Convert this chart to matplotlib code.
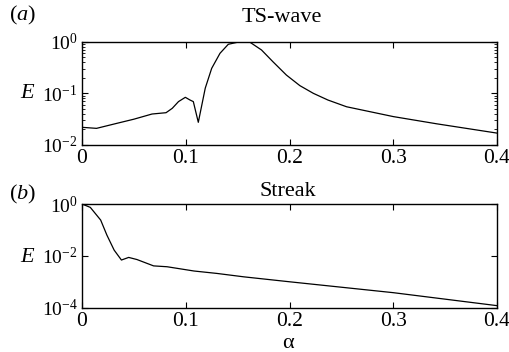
import matplotlib
matplotlib.use("Agg")
import matplotlib.pyplot as plt
from matplotlib.ticker import LogLocator, NullFormatter, FixedLocator

plt.rcParams['font.family'] = ['Liberation Serif', 'DejaVu Serif']
plt.rcParams['mathtext.fontset'] = 'custom'
plt.rcParams['mathtext.rm'] = 'Liberation Serif'
plt.rcParams['mathtext.it'] = 'Liberation Serif:italic'

# Panel (a): TS-wave
alpha_ts = [0.0, 0.014, 0.0337, 0.05, 0.0675, 0.081, 0.087, 0.093, 0.0996, 0.1041,
            0.1073, 0.1121, 0.1188, 0.125, 0.133, 0.141, 0.1523, 0.162, 0.173, 0.184,
            0.197, 0.210, 0.223, 0.237, 0.255, 0.30, 0.342, 0.4]
E_ts = [0.0220, 0.0210, 0.0263, 0.0316, 0.0398, 0.0422, 0.0513, 0.0692, 0.0838, 0.0743,
        0.0692, 0.0275, 0.126, 0.305, 0.596, 0.891, 1.0, 0.973, 0.692, 0.410,
        0.226, 0.141, 0.100, 0.0743, 0.055, 0.0355, 0.0257, 0.0170]

# Panel (b): Streak
alpha_st = [0.0, 0.008, 0.018, 0.024, 0.031, 0.038, 0.045, 0.053, 0.069, 0.082,
            0.108, 0.13, 0.156, 0.2, 0.3, 0.4]
E_st = [1.0, 0.741, 0.24, 0.063, 0.0166, 0.0069, 0.0087, 0.0072, 0.0041, 0.0038,
        0.0026, 0.0021, 0.00155, 0.0010, 0.00038, 0.00012]

xticks = [0, 0.1, 0.2, 0.3, 0.4]
xticklabels = ['0', '0.1', '0.2', '0.3', '0.4']

W, H = 509, 352
fig = plt.figure(figsize=(W / 100, H / 100), dpi=100)
FSX = 15.5
FSY = 14
FST = 16

def px_axes(x0, y0, x1, y1):
    return fig.add_axes([x0 / W, 1 - y1 / H, (x1 - x0) / W, (y1 - y0) / H])

axa = px_axes(82, 41.7, 497, 145)
axb = px_axes(82, 204, 497, 307.7)

axa.semilogy(alpha_ts, E_ts, color='black', lw=0.9)
axb.semilogy(alpha_st, E_st, color='black', lw=0.9)

for ax in (axa, axb):
    ax.set_xlim(0, 0.4)
    ax.set_xticks(xticks)
    ax.set_xticklabels(xticklabels, fontsize=FSX)
    ax.tick_params(which='major', direction='in', top=True, right=True, length=4,
                   width=0.8, pad=3)
    ax.tick_params(which='minor', direction='in', top=True, right=True, length=2,
                   width=0.6)
    for s in ax.spines.values():
        s.set_linewidth(1.0)

axa.set_ylim(1e-2, 1e0)
axa.yaxis.set_major_locator(FixedLocator([1e-2, 1e-1, 1e0]))
axa.set_yticklabels([r'$10^{-2}$', r'$10^{-1}$', r'$10^{0}$'], fontsize=FSY)
axa.yaxis.set_minor_locator(LogLocator(base=10, subs=range(2, 10), numticks=20))
axa.yaxis.set_minor_formatter(NullFormatter())

axb.set_ylim(1e-4, 1e0)
axb.yaxis.set_major_locator(FixedLocator([1e-4, 1e-2, 1e0]))
axb.set_yticklabels([r'$10^{-4}$', r'$10^{-2}$', r'$10^{0}$'], fontsize=FSY)
axb.yaxis.set_minor_locator(FixedLocator([]))

axa.xaxis.set_minor_locator(FixedLocator([]))
axb.xaxis.set_minor_locator(FixedLocator([]))

# Titles and labels
fig.text(282 / W, 1 - 18 / H, 'TS-wave', ha='center', va='center', fontsize=FST)
fig.text(288 / W, 1 - 191 / H, 'Streak', ha='center', va='center', fontsize=FST)
fig.text(9 / W, 1 - 15 / H, r'($a$)', ha='left', va='center', fontsize=FST)
fig.text(9 / W, 1 - 194 / H, r'($b$)', ha='left', va='center', fontsize=FST)
fig.text(28 / W, 1 - 94 / H, r'$E$', ha='center', va='center', fontsize=FST)
fig.text(28 / W, 1 - 258 / H, r'$E$', ha='center', va='center', fontsize=FST)
fig.text(288 / W, 1 - 344 / H, 'α', ha='center', va='center', fontsize=FST)

fig.savefig('out.png', dpi=100)
